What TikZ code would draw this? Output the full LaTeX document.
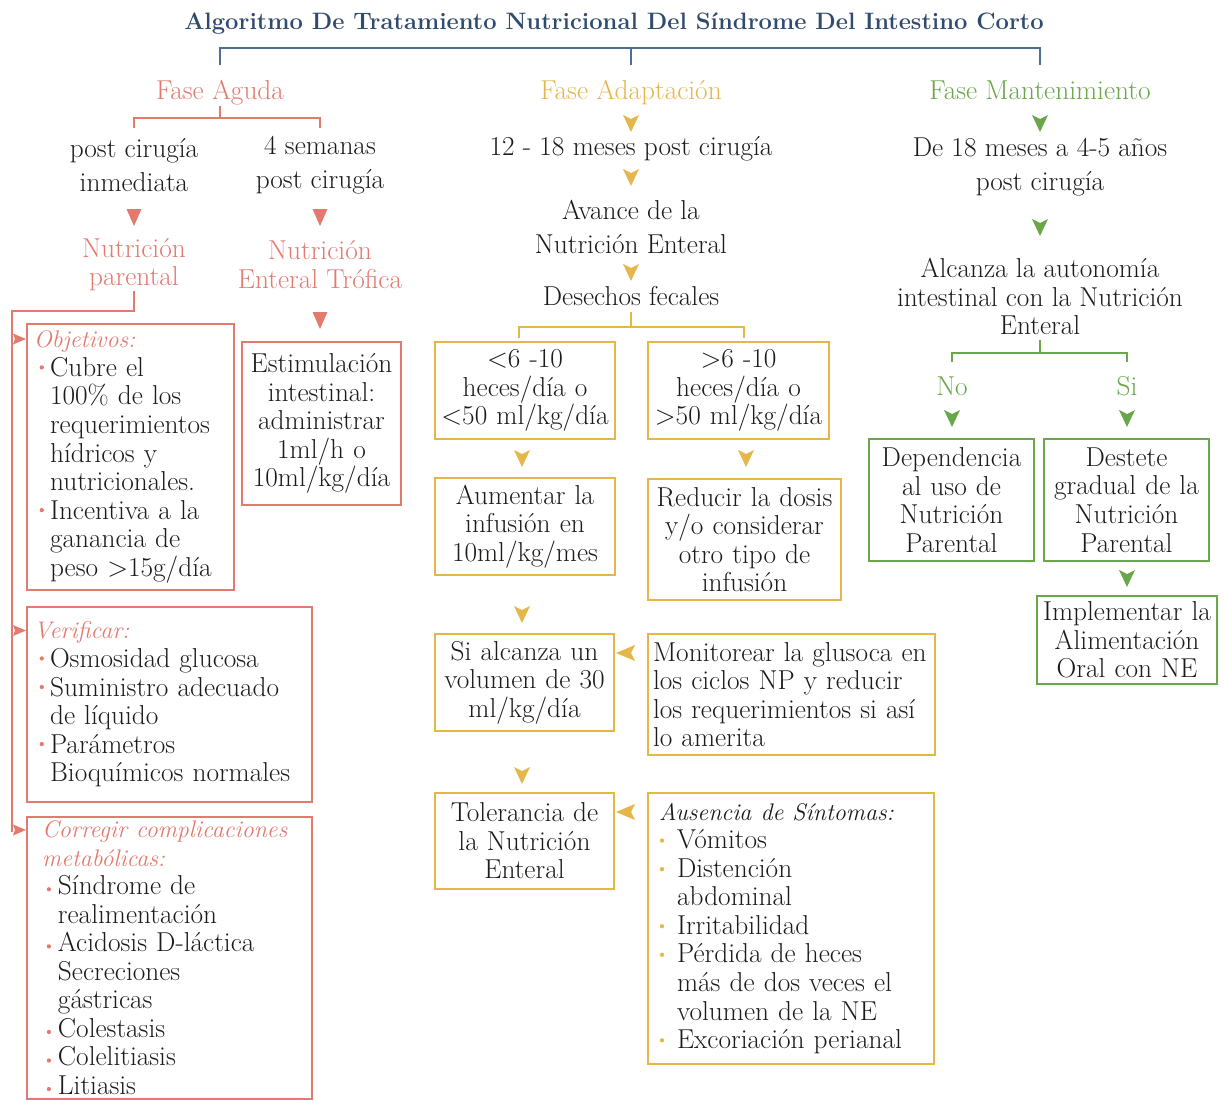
\documentclass[tikz,border=0pt]{standalone}
\usetikzlibrary{calc}
\definecolor{salmon}{RGB}{226,122,112}
\definecolor{gold}{RGB}{229,182,74}
\definecolor{leaf}{RGB}{106,166,74}
\definecolor{navy}{RGB}{47,75,110}
\definecolor{navyline}{RGB}{80,110,145}
\definecolor{ink}{RGB}{30,26,27}
\newcommand\bodyfont{\fontsize{20.5}{21.4}\selectfont}
\newcommand\loosefont{\fontsize{20.5}{25.5}\selectfont}
\newcommand\headfont{\fontsize{18}{21.4}\selectfont\itshape}
% list bullets and indents
\newcommand\bdot[2]{\tikz[baseline=0pt]\fill[#1] (1.6pt,#2) circle (1.6pt);}
\newcommand\objhd[1]{\hspace*{0.07em}\textcolor{salmon}{\headfont #1}}
\newcommand\objit{\hspace*{0.28em}\makebox[0.38em][l]{\bdot{salmon}{0.33em}}}
\newcommand\objcn{\hspace*{0.66em}}
\newcommand\corhd[1]{\hspace*{0.37em}\textcolor{salmon}{\headfont #1}}
\newcommand\corit{\hspace*{0.54em}\makebox[0.41em][l]{\bdot{salmon}{0.2em}}}
\newcommand\corcn{\hspace*{0.95em}}
\newcommand\aushd[1]{\hspace*{0.22em}{\headfont #1}}
\newcommand\ausit{\hspace*{0.25em}\makebox[0.63em][l]{\bdot{gold}{0.3em}}}
\newcommand\auscn{\hspace*{0.88em}}
\begin{document}
\begin{tikzpicture}[x=0.75pt,y=-0.75pt,
  every node/.style={text=ink,font=\bodyfont,inner sep=0pt},
  oneline/.style={text height=0.68em,text depth=0.2em,yshift=-3pt},
  box/.style={draw=#1,line width=1.2pt,inner xsep=3.75pt,inner ysep=0pt},
  bx/.style n args={2}{minimum width=#1*0.75pt,minimum height=#2*0.75pt,text width=#1*0.75pt-7.5pt},
  ln/.style={draw=#1,line width=1.2pt},
  dn/.pic={\fill (-8,-8) -- (0,-4) -- (8,-8) -- (0,9) -- cycle;},
  dnp/.pic={\fill (-7.5,-8) -- (7.5,-8) -- (0,9) -- cycle;},
  lf/.pic={\fill (9,-8) -- (5,0) -- (9,8) -- (-10,0) -- cycle;},
  rt/.pic={\fill (-6,-5.5) -- (7,0) -- (-6,5.5) -- (-4,0) -- cycle;}]
\fill[white] (0,0) rectangle (1227,1099);
\path[use as bounding box,clip] (0,0) rectangle (1227,1099);

% title and phases
\node[oneline,text=navy,font=\fontsize{17.8}{20}\selectfont\bfseries] (title) at (614,22)
  {Algoritmo De Tratamiento Nutricional Del Síndrome Del Intestino Corto};
\node[oneline,text=salmon] (fa) at (220,92) {Fase Aguda};
\node[oneline,text=gold] (fd) at (631,92) {Fase Adaptación};
\node[oneline,text=leaf] (fm) at (1040,92) {Fase Mantenimiento};
\coordinate (tb) at (631,48);
\coordinate (tbe) at (631,65);
\draw[ln=navyline] (fa |- tbe) -- (fa |- tb) -- (fm |- tb) -- (fm |- tbe);
\draw[ln=navyline] (fd |- tb) -- (fd |- tbe);

% acute phase
\node[font=\loosefont,align=center] (pq) at (134,165) {post cirugía\\inmediata};
\node[font=\loosefont,align=center] (sem) at (320,165) {4 semanas\\post cirugía};
\coordinate (rbt) at (0,106);
\coordinate (rb) at (0,118);
\coordinate (rbe) at (0,128);
\draw[ln=salmon] (fa |- rbt) -- (fa |- rb);
\draw[ln=salmon] (pq |- rbe) -- (pq |- rb) -- (sem |- rb) -- (sem |- rbe);
\pic[salmon] at (134,217) {dnp};
\pic[salmon] at (320,217) {dnp};
\node[text=salmon,align=center] (np) at (134,264.5) {Nutrición\\parental};
\node[text=salmon,align=center] (ne) at (320,264.5) {Nutrición\\Enteral Trófica};
\pic[salmon] at (320,320) {dnp};
\node[box=salmon,bx={159}{163},align=center] (est) at (321.5,423.5)
  {Estimulación\\intestinal:\\administrar\\1ml/h o\\10ml/kg/día};
\node[box=salmon,bx={207}{266},align=left] (obj) at (130.5,457)
  {\objhd{Objetivos:}\\ \objit Cubre el\\ \objcn 100\% de los\\ \objcn requerimientos\\
   \objcn hídricos y\\ \objcn nutricionales.\\ \objit Incentiva a la\\ \objcn ganancia de\\
   \objcn peso >15g/día};
\node[box=salmon,bx={285}{195},align=left] (ver) at (169.5,704.5)
  {\objhd{Verificar:}\\ \objit Osmosidad glucosa\\ \objit Suministro adecuado\\
   \objcn de líquido\\ \objit Parámetros\\ \objcn Bioquímicos normales};
\node[box=salmon,text width=285*0.75pt-7.5pt,inner ysep=3pt,align=left,anchor=north] (cor) at (169.5,816)
  {\corhd{Corregir complicaciones}\\ \corhd{metabólicas:}\\ \corit Síndrome de\\
   \corcn realimentación\\ \corit Acidosis D-láctica\\ \corcn Secreciones\\ \corcn gástricas\\
   \corit Colestasis\\ \corit Colelitiasis\\ \corit Litiasis};
\coordinate (lc) at (12,311);
\coordinate (le) at (12,832);
\draw[ln=salmon] (np.south) |- (lc) -- (le);
\pic[salmon] at (19,339) {rt};
\pic[salmon] at (19,630.5) {rt};
\pic[salmon] at (19,830) {rt};

% adaptation phase
\pic[gold] at (631,123) {dn};
\node[oneline] (m1) at (631,148) {12 - 18 meses post cirugía};
\pic[gold] at (631,177) {dn};
\node[font=\loosefont,align=center] (m2) at (631,226.5) {Avance de la\\Nutrición Enteral};
\pic[gold] at (631,272) {dn};
\node[oneline] (m3) at (631,298) {Desechos fecales};
\coordinate (gb) at (0,327);
\coordinate (gl) at (519,338);
\coordinate (gr) at (744,338);
\draw[ln=gold] (m3 |- 0,312) -- (m3 |- gb);
\draw[ln=gold] (gl) -- (gl |- gb) -- (gr |- gb) -- (gr);
\node[box=gold,bx={180}{97},align=center] (lt) at (525,390.5) {<6 -10\\heces/día o\\<50 ml/kg/día};
\node[box=gold,bx={181}{97},align=center] (gt) at (738.5,390.5) {>6 -10\\heces/día o\\>50 ml/kg/día};
\pic[gold] at (522,458) {dn};
\pic[gold] at (746,458) {dn};
\node[box=gold,bx={180}{97},align=center] (aum) at (525,526.5) {Aumentar la\\infusión en\\10ml/kg/mes};
\node[box=gold,bx={193}{121},align=center] (red) at (744.5,539.5)
  {Reducir la dosis\\y/o considerar\\otro tipo de\\infusión};
\pic[gold] at (522,614) {dn};
\node[box=gold,bx={179}{97},align=center] (si) at (524.5,682.5) {Si alcanza un\\volumen de 30\\ml/kg/día};
\pic[gold] at (626,653) {lf};
\node[box=gold,bx={287}{121},align=left] (mon) at (791.5,694.5)
  {Monitorear la glusoca en\\los ciclos NP y reducir\\los requerimientos si así\\lo amerita};
\pic[gold] at (522,775) {dn};
\node[box=gold,bx={179}{96},align=center] (tol) at (524.5,841) {Tolerancia de\\la Nutrición\\Enteral};
\pic[gold] at (626,812) {lf};
\node[box=gold,bx={286}{271},align=left] (aus) at (791,928.5)
  {\aushd{Ausencia de Síntomas:}\\ \ausit Vómitos\\ \ausit Distención\\ \auscn abdominal\\
   \ausit Irritabilidad\\ \ausit Pérdida de heces\\ \auscn más de dos veces el\\
   \auscn volumen de la NE\\ \ausit Excoriación perianal};

% maintenance phase
\pic[leaf] at (1040,123) {dn};
\node[font=\loosefont,align=center] (r1) at (1040,167) {De 18 meses a 4-5 años\\post cirugía};
\pic[leaf] at (1040,227) {dn};
\node[align=center] (r2) at (1040,296.5) {Alcanza la autonomía\\intestinal con la Nutrición\\Enteral};
\node[oneline,text=leaf] (no) at (952,388) {No};
\node[oneline,text=leaf] (sii) at (1127,388) {Si};
\draw[ln=leaf] (r2 |- 0,340) -- (r2 |- 0,353);
\draw[ln=leaf] (no |- 0,362) -- (no |- 0,353) -- (sii |- 0,353) -- (sii |- 0,362);
\pic[leaf] at (952,418) {dn};
\pic[leaf] at (1127,418) {dn};
\node[box=leaf,bx={165}{122},align=center] (dep) at (951.5,500) {Dependencia\\al uso de\\Nutrición\\Parental};
\node[box=leaf,bx={165}{122},align=center] (des) at (1126.5,500) {Destete\\gradual de la\\Nutrición\\Parental};
\pic[leaf] at (1127,578) {dn};
\node[box=leaf,bx={180}{88},align=center] (imp) at (1127,640) {Implementar la\\Alimentación\\Oral con NE};
\end{tikzpicture}
\end{document}
